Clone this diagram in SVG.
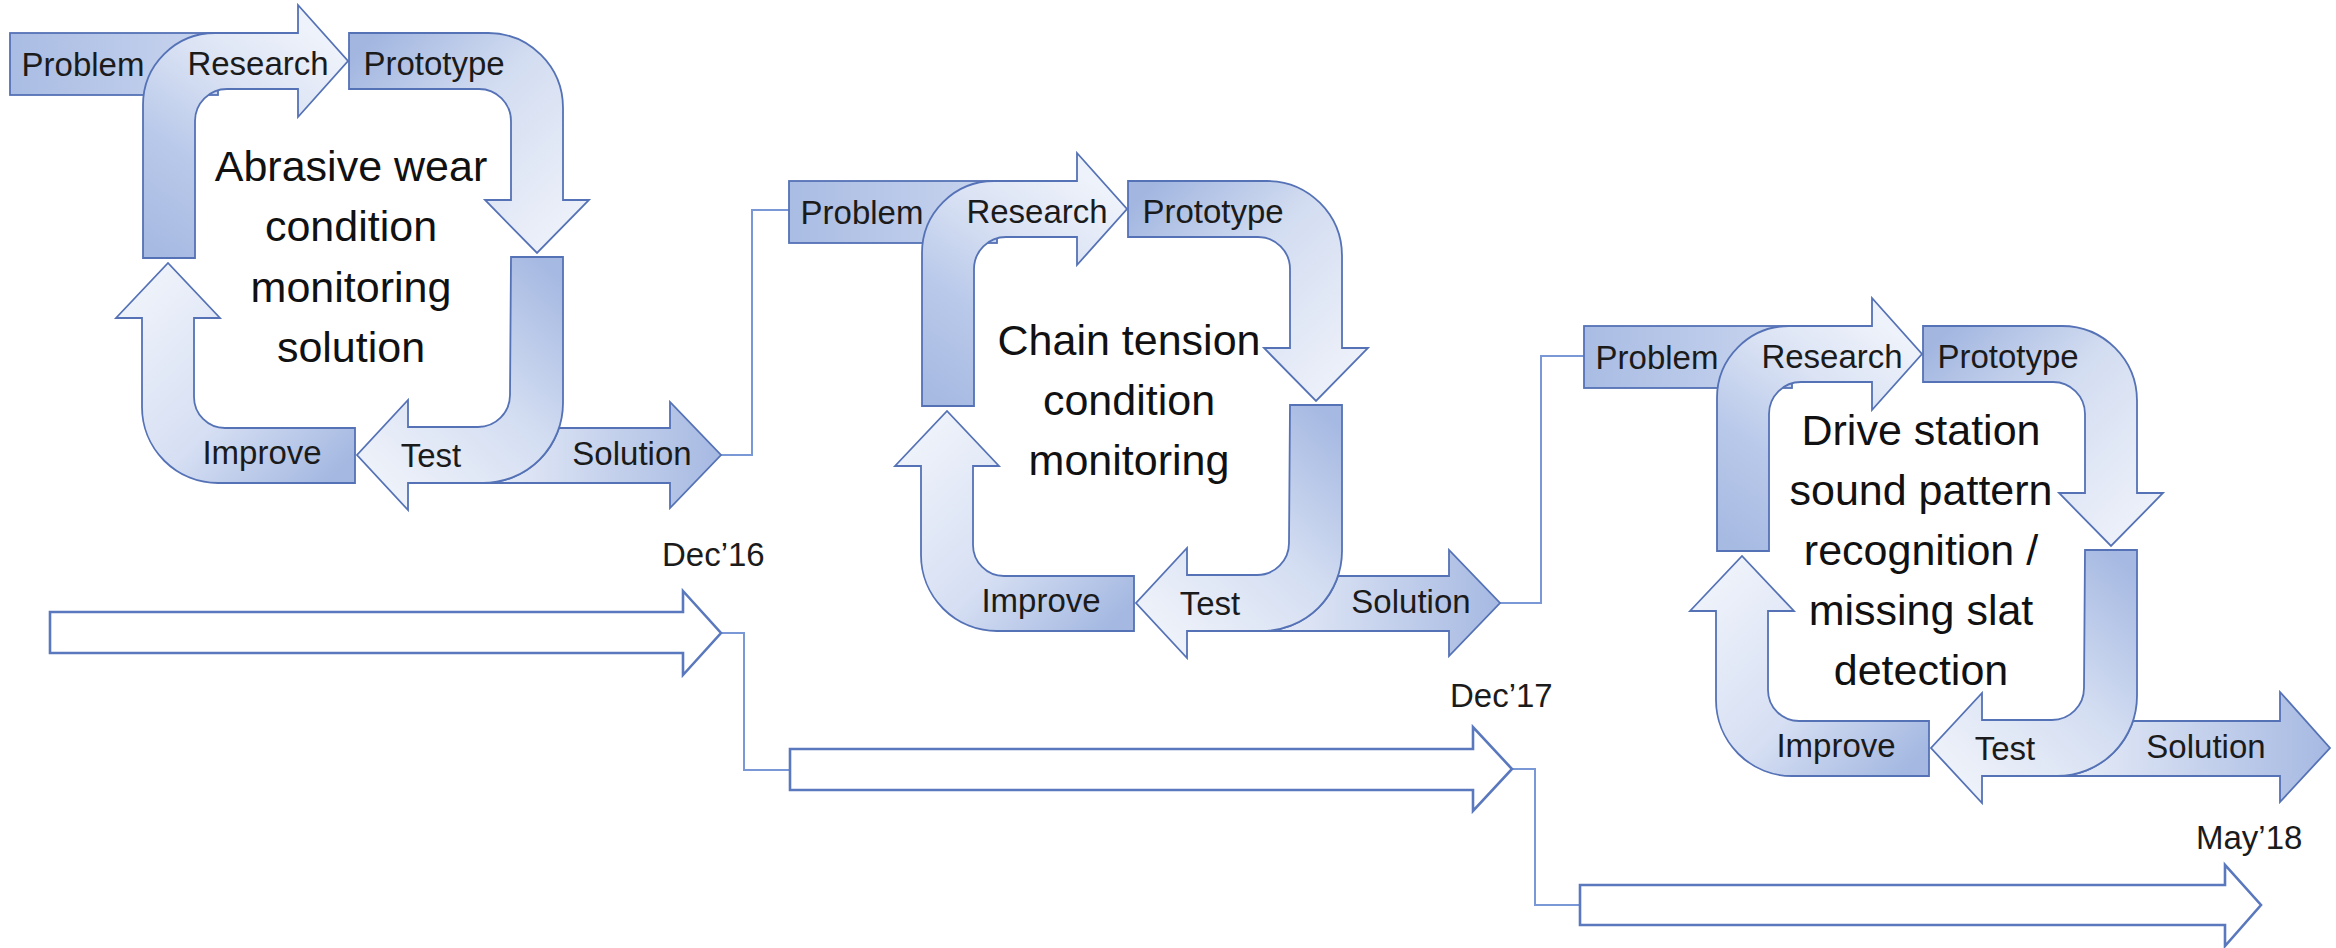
<svg xmlns="http://www.w3.org/2000/svg" width="2336" height="948" viewBox="0 0 2336 948">
<style>
.sh{stroke:#5572b6;stroke-width:1.8;stroke-linejoin:miter}
.lbl{font-family:"Liberation Sans",Arial,sans-serif;font-size:33px;fill:#1b1b1b;text-anchor:middle}
.ctr{font-family:"Liberation Sans",Arial,sans-serif;font-size:43px;fill:#111;text-anchor:middle}
.date{font-family:"Liberation Sans",Arial,sans-serif;font-size:33px;fill:#1b1b1b}
.tl{fill:#fff;stroke:#5a78bd;stroke-width:2.6}
.con{fill:none;stroke:#7a98d6;stroke-width:2}
</style>
<defs>
<linearGradient id="gProb" gradientUnits="userSpaceOnUse" x1="10" y1="0" x2="218" y2="0">
<stop offset="0" stop-color="#a9bce3"/><stop offset="1" stop-color="#c9d5ef"/></linearGradient>
<linearGradient id="gRes" gradientUnits="userSpaceOnUse" x1="169" y1="258" x2="320" y2="40">
<stop offset="0" stop-color="#a7bae2"/><stop offset="0.35" stop-color="#b9c9ea"/><stop offset="0.7" stop-color="#dbe3f4"/><stop offset="1" stop-color="#eef2fa"/></linearGradient>
<linearGradient id="gProt" gradientUnits="userSpaceOnUse" x1="349" y1="61" x2="537" y2="253">
<stop offset="0" stop-color="#a2b6e0"/><stop offset="0.45" stop-color="#d3ddf1"/><stop offset="1" stop-color="#ecf0f9"/></linearGradient>
<linearGradient id="gTest" gradientUnits="userSpaceOnUse" x1="537" y1="257" x2="357" y2="455">
<stop offset="0" stop-color="#a6b9e2"/><stop offset="0.5" stop-color="#d4def2"/><stop offset="1" stop-color="#edf1f9"/></linearGradient>
<linearGradient id="gImp" gradientUnits="userSpaceOnUse" x1="355" y1="455" x2="168" y2="263">
<stop offset="0" stop-color="#a4b8e1"/><stop offset="0.45" stop-color="#d6dff3"/><stop offset="1" stop-color="#eef2fa"/></linearGradient>
<linearGradient id="gSol" gradientUnits="userSpaceOnUse" x1="485" y1="0" x2="721" y2="0">
<stop offset="0" stop-color="#e8edf8"/><stop offset="1" stop-color="#a6b9e2"/></linearGradient>
<linearGradient id="gSol3" gradientUnits="userSpaceOnUse" x1="485" y1="0" x2="757" y2="0">
<stop offset="0" stop-color="#e8edf8"/><stop offset="1" stop-color="#a6b9e2"/></linearGradient>
</defs>
<rect width="2336" height="948" fill="#fff"/>

<g id="connectors">
<path class="con" d="M721,455 H752 V210 H790"/>
<path class="con" d="M1500,603 H1541 V356 H1585"/>
<path class="con" d="M721,633 H744 V770 H790"/>
<path class="con" d="M1512,769 H1535 V905 H1580"/>
</g>

<g id="timeline">
<g id="timeline-arrow-1"><path class="tl" d="M50,612 L683,612 L683,591 L721,633 L683,675 L683,653 L50,653 Z"/></g>
<g id="timeline-arrow-2"><path class="tl" d="M790,749 L1473,749 L1473,727 L1512,769 L1473,811 L1473,790 L790,790 Z"/></g>
<g id="timeline-arrow-3"><path class="tl" d="M1580,885 L2225,885 L2225,865 L2261,905 L2225,946 L2225,925 L1580,925 Z"/></g>
<g id="date-dec16"><text class="date" x="662" y="566">Dec’16</text></g>
<g id="date-dec17"><text class="date" x="1450" y="707">Dec’17</text></g>
<g id="date-may18"><text class="date" x="2196" y="849">May’18</text></g>
</g>

<g id="cycle1">
<g id="c1-problem"><rect class="sh" x="10" y="33" width="208" height="62" fill="url(#gProb)"/><text class="lbl" x="83" y="76">Problem</text></g>
<g id="c1-research"><path class="sh" fill="url(#gRes)" d="M143,258 L143,105 A72,72 0 0 1 215,33 L298,33 L298,5 L348,61 L298,117 L298,89 L227,89 A32,32 0 0 0 195,121 L195,258 Z"/><text class="lbl" x="258" y="75">Research</text></g>
<g id="c1-prototype"><path class="sh" fill="url(#gProt)" d="M349,33 L488,33 A75,75 0 0 1 563,108 L563,200 L589,200 L537,253 L485,200 L511,200 L511,121 A32,32 0 0 0 479,89 L349,89 Z"/><text class="lbl" x="434" y="75">Prototype</text></g>
<g id="c1-solution"><path class="sh" fill="url(#gSol)" d="M483,483 A80,80 0 0 0 559,428 L670,428 L670,402 L721,455 L670,508 L670,483 Z"/><text class="lbl" x="632" y="465">Solution</text></g>
<g id="c1-test"><path class="sh" fill="url(#gTest)" d="M511,257 L563,257 L563,403 A80,80 0 0 1 483,483 L408,483 L408,510 L357,455 L408,400 L408,427 L478,427 A32,32 0 0 0 510,395 Z"/><text class="lbl" x="431" y="467">Test</text></g>
<g id="c1-improve"><path class="sh" fill="url(#gImp)" d="M355,428 L355,483 L218,483 A76,76 0 0 1 142,407 L142,318 L116,318 L168,263 L220,318 L194,318 L194,397 A31,31 0 0 0 225,428 Z"/><text class="lbl" x="262" y="464">Improve</text></g>
<g id="c1-title"><text class="ctr" x="351" y="181">Abrasive wear</text><text class="ctr" x="351" y="241">condition</text><text class="ctr" x="351" y="302">monitoring</text><text class="ctr" x="351" y="362">solution</text></g>
</g>

<g id="cycle2" transform="translate(779,148)">
<g id="c2-problem"><rect class="sh" x="10" y="33" width="208" height="62" fill="url(#gProb)"/><text class="lbl" x="83" y="76">Problem</text></g>
<g id="c2-research"><path class="sh" fill="url(#gRes)" d="M143,258 L143,105 A72,72 0 0 1 215,33 L298,33 L298,5 L348,61 L298,117 L298,89 L227,89 A32,32 0 0 0 195,121 L195,258 Z"/><text class="lbl" x="258" y="75">Research</text></g>
<g id="c2-prototype"><path class="sh" fill="url(#gProt)" d="M349,33 L488,33 A75,75 0 0 1 563,108 L563,200 L589,200 L537,253 L485,200 L511,200 L511,121 A32,32 0 0 0 479,89 L349,89 Z"/><text class="lbl" x="434" y="75">Prototype</text></g>
<g id="c2-solution"><path class="sh" fill="url(#gSol)" d="M483,483 A80,80 0 0 0 559,428 L670,428 L670,402 L721,455 L670,508 L670,483 Z"/><text class="lbl" x="632" y="465">Solution</text></g>
<g id="c2-test"><path class="sh" fill="url(#gTest)" d="M511,257 L563,257 L563,403 A80,80 0 0 1 483,483 L408,483 L408,510 L357,455 L408,400 L408,427 L478,427 A32,32 0 0 0 510,395 Z"/><text class="lbl" x="431" y="467">Test</text></g>
<g id="c2-improve"><path class="sh" fill="url(#gImp)" d="M355,428 L355,483 L218,483 A76,76 0 0 1 142,407 L142,318 L116,318 L168,263 L220,318 L194,318 L194,397 A31,31 0 0 0 225,428 Z"/><text class="lbl" x="262" y="464">Improve</text></g>
<g id="c2-title"><text class="ctr" x="350" y="207">Chain tension</text><text class="ctr" x="350" y="267">condition</text><text class="ctr" x="350" y="327">monitoring</text></g>
</g>

<g id="cycle3" transform="translate(1574,293)">
<g id="c3-problem"><rect class="sh" x="10" y="33" width="208" height="62" fill="url(#gProb)"/><text class="lbl" x="83" y="76">Problem</text></g>
<g id="c3-research"><path class="sh" fill="url(#gRes)" d="M143,258 L143,105 A72,72 0 0 1 215,33 L298,33 L298,5 L348,61 L298,117 L298,89 L227,89 A32,32 0 0 0 195,121 L195,258 Z"/><text class="lbl" x="258" y="75">Research</text></g>
<g id="c3-prototype"><path class="sh" fill="url(#gProt)" d="M349,33 L488,33 A75,75 0 0 1 563,108 L563,200 L589,200 L537,253 L485,200 L511,200 L511,121 A32,32 0 0 0 479,89 L349,89 Z"/><text class="lbl" x="434" y="75">Prototype</text></g>
<g id="c3-solution"><path class="sh" fill="url(#gSol3)" d="M483,483 A80,80 0 0 0 559,428 L706,428 L706,399 L756,455 L706,509 L706,483 Z"/><text class="lbl" x="632" y="465">Solution</text></g>
<g id="c3-test"><path class="sh" fill="url(#gTest)" d="M511,257 L563,257 L563,403 A80,80 0 0 1 483,483 L408,483 L408,510 L357,455 L408,400 L408,427 L478,427 A32,32 0 0 0 510,395 Z"/><text class="lbl" x="431" y="467">Test</text></g>
<g id="c3-improve"><path class="sh" fill="url(#gImp)" d="M355,428 L355,483 L218,483 A76,76 0 0 1 142,407 L142,318 L116,318 L168,263 L220,318 L194,318 L194,397 A31,31 0 0 0 225,428 Z"/><text class="lbl" x="262" y="464">Improve</text></g>
<g id="c3-title"><text class="ctr" x="347" y="152">Drive station</text><text class="ctr" x="347" y="212">sound pattern</text><text class="ctr" x="347" y="272">recognition /</text><text class="ctr" x="347" y="332">missing slat</text><text class="ctr" x="347" y="392">detection</text></g>
</g>
</svg>
